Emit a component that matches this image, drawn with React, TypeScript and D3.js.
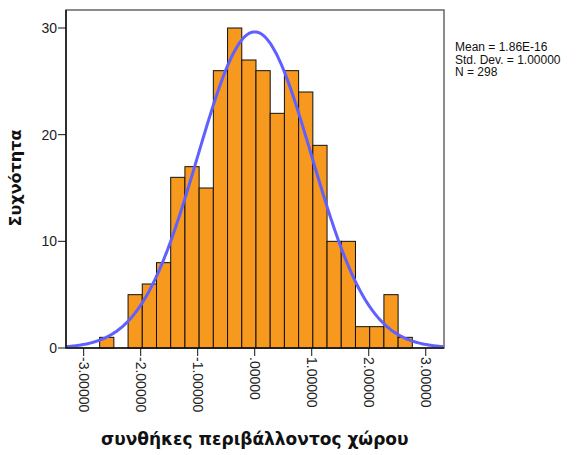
import React, { useEffect, useRef } from 'react';
import * as d3 from 'd3';

// histogram counts, left to right
const counts = [1, 0, 5, 6, 8, 16, 17, 15, 26, 30, 27, 26, 22, 26, 24, 19, 10, 10, 2, 2, 5, 1];
const binStart = -2.72;
const binWidth = 0.2493;
const xTicks = [-3, -2, -1, 0, 1, 2, 3];
const yTicks = [0, 10, 20, 30];
const statLines = ['Mean = 1.86E-16', 'Std. Dev. = 1.00000', 'N = 298'];
const mean = 0;
const sd = 1;
const n = 298;

const fmt = (v: number) => (v === 0 ? '.00000' : v.toFixed(5));

const App = () => {
    const svgRef = useRef<SVGSVGElement>(null);

    useEffect(() => {
        const width = 585;
        const height = 455;
        const m = { left: 66, right: 444, top: 10, bottom: 348 };

        const svg = d3.select(svgRef.current);
        svg.selectAll('*').remove();
        svg.attr('width', width).attr('height', height);

        const x = d3.scaleLinear().domain([-3.31, 3.32]).range([m.left, m.right]);
        const y = d3.scaleLinear().domain([0, 30]).range([m.bottom, 28]);

        const font = '"Liberation Sans", Arial, sans-serif';
        const titleFont = '"DejaVu Sans", Verdana, sans-serif';

        // frame
        svg.append('rect')
            .attr('x', m.left)
            .attr('y', m.top)
            .attr('width', m.right - m.left)
            .attr('height', m.bottom - m.top)
            .attr('fill', 'white')
            .attr('stroke', '#666')
            .attr('stroke-width', 1.5);

        // bars
        svg.append('g')
            .selectAll('rect')
            .data(counts.map((c, i) => ({ c, x0: binStart + i * binWidth })))
            .enter()
            .filter((d) => d.c > 0)
            .append('rect')
            .attr('x', (d) => x(d.x0))
            .attr('y', (d) => y(d.c))
            .attr('width', (d) => x(d.x0 + binWidth) - x(d.x0))
            .attr('height', (d) => y(0) - y(d.c))
            .attr('fill', '#f7991f')
            .attr('stroke', '#111')
            .attr('stroke-width', 1);

        // normal curve
        const pdf = (v: number) => Math.exp(-0.5 * ((v - mean) / sd) ** 2) / (sd * Math.sqrt(2 * Math.PI));
        const pts = d3.range(-3.31, 3.321, 0.02).map((v) => [v, n * binWidth * pdf(v)] as [number, number]);
        svg.append('path')
            .datum(pts)
            .attr('d', d3.line<[number, number]>().x((d) => x(d[0])).y((d) => y(d[1])).curve(d3.curveBasis))
            .attr('fill', 'none')
            .attr('stroke', '#6060ff')
            .attr('stroke-width', 3);

        // axes lines
        svg.append('line')
            .attr('x1', m.left).attr('x2', m.left)
            .attr('y1', m.top).attr('y2', m.bottom)
            .attr('stroke', '#111').attr('stroke-width', 1.5);
        svg.append('line')
            .attr('x1', m.left).attr('x2', m.right)
            .attr('y1', m.bottom).attr('y2', m.bottom)
            .attr('stroke', '#111').attr('stroke-width', 1.5);

        // y ticks
        const yg = svg.append('g');
        yTicks.forEach((t) => {
            yg.append('line')
                .attr('x1', m.left - 8).attr('x2', m.left)
                .attr('y1', y(t)).attr('y2', y(t))
                .attr('stroke', '#111');
            yg.append('text')
                .attr('x', m.left - 9)
                .attr('y', y(t))
                .attr('dy', '0.35em')
                .attr('text-anchor', 'end')
                .style('font-family', font)
                .style('font-size', '14px')
                .style('fill', '#222')
                .text(t);
        });

        // x ticks
        const xg = svg.append('g');
        xTicks.forEach((t) => {
            xg.append('line')
                .attr('x1', x(t)).attr('x2', x(t))
                .attr('y1', m.bottom).attr('y2', m.bottom + 8)
                .attr('stroke', '#111');
            xg.append('text')
                .attr('transform', `translate(${x(t)},${m.bottom + 9}) rotate(90)`)
                .attr('dy', '0.35em')
                .attr('text-anchor', 'start')
                .style('font-family', font)
                .style('font-size', '14px')
                .style('fill', '#222')
                .text(fmt(t));
        });

        // titles
        svg.append('text')
            .attr('x', x(0))
            .attr('y', 445)
            .attr('text-anchor', 'middle')
            .style('font-family', titleFont)
            .style('font-size', '17px')
            .style('font-weight', 'bold')
            .style('fill', '#111')
            .text('συνθήκες περιβάλλοντος χώρου');

        svg.append('text')
            .attr('transform', `translate(21,178) rotate(-90)`)
            .attr('text-anchor', 'middle')
            .style('font-family', titleFont)
            .style('font-size', '16px')
            .style('font-weight', 'bold')
            .style('fill', '#111')
            .text('Συχνότητα');

        // stats
        svg.append('g')
            .selectAll('text')
            .data(statLines)
            .enter()
            .append('text')
            .attr('x', 455)
            .attr('y', (d, i) => 51 + i * 12.7)
            .style('font-family', font)
            .style('font-size', '12px')
            .style('fill', '#111')
            .text((d) => d);
    }, []);

    return (
        <div style={{ position: 'absolute', left: 0, top: 0 }}>
            <svg ref={svgRef} style={{ display: 'block' }} />
        </div>
    );
};

export default App;
